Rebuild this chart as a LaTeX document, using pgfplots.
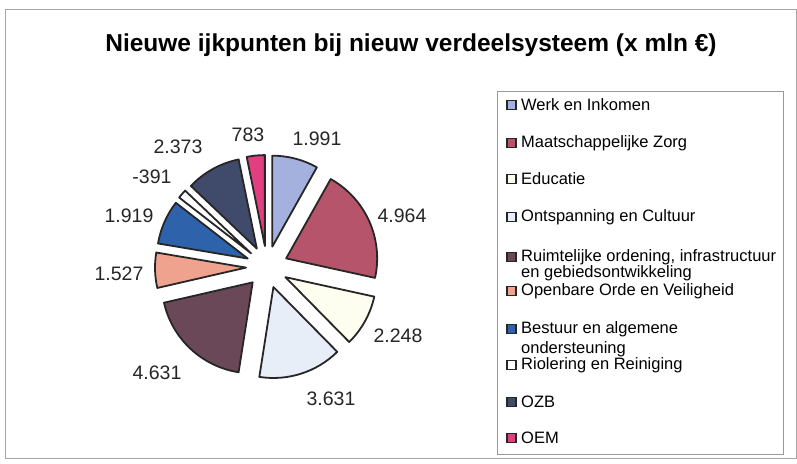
\documentclass[border=0pt]{standalone}
\usepackage{pgfplots}
\usepackage{pgfplotstable}
\pgfplotsset{compat=1.18}
\usepackage{fontspec}
\setmainfont{Liberation Sans}

\definecolor{cWerk}{HTML}{A4B1DF}
\definecolor{cZorg}{HTML}{B5546A}
\definecolor{cEdu}{HTML}{FDFDF0}
\definecolor{cOnt}{HTML}{E8EEF8}
\definecolor{cRuim}{HTML}{6B4858}
\definecolor{cOOV}{HTML}{EFA28E}
\definecolor{cBest}{HTML}{2E62AA}
\definecolor{cRiol}{HTML}{FFFFFF}
\definecolor{cOZB}{HTML}{404B6C}
\definecolor{cOEM}{HTML}{E0407F}

% value, label, label centre (image pixels, y from top), colour
\pgfplotstableread{
value lab   lx  ly  col
1991  1.991 317 139 cWerk
4964  4.964 402 216 cZorg
2248  2.248 398 336 cEdu
3631  3.631 331 399 cOnt
4631  4.631 157 373 cRuim
1527  1.527 119 274 cOOV
1919  1.919 129 216 cBest
-391  -391  152 177 cRiol
2373  2.373 178 147 cOZB
783   783   248 135 cOEM
}\piedata

\newcommand\labfont{\fontsize{19.5bp}{22bp}\selectfont}
\newcommand\legfont{\fontsize{16.5bp}{19bp}\selectfont}

\begin{document}
\begin{tikzpicture}
\begin{axis}[x=1bp,y=1bp,xmin=0,xmax=797,ymin=0,ymax=464,hide axis,clip=false]
\path (axis cs:0,0) rectangle (axis cs:797,464);
\draw[gray!70, line width=1bp] (axis cs:5,5) rectangle (axis cs:796,454);
% title
\node[font=\bfseries\fontsize{24.5bp}{28bp}\selectfont] at (axis cs:411,419) {Nieuwe ijkpunten bij nieuw verdeelsysteem (x mln €)};
% total (in thousands, to stay within TeX's number range)
\pgfplotstablegetrowsof{\piedata}
\pgfmathtruncatemacro\nrows{\pgfplotsretval-1}
\def\total{0}
\pgfplotsforeachungrouped \i in {0,...,\nrows}{%
  \pgfplotstablegetelem{\i}{value}\of\piedata
  \pgfmathsetmacro\total{\total+abs(\pgfplotsretval)/1000}%
}
\def\startang{90}
\pgfplotsforeachungrouped \i in {0,...,\nrows}{%
  \pgfplotstablegetelem{\i}{value}\of\piedata
  \pgfmathsetmacro\spanang{abs(\pgfplotsretval)/1000*360/\total}%
  \pgfmathsetmacro\endang{\startang-\spanang}%
  \pgfmathsetmacro\midang{\startang-\spanang/2}%
  \pgfmathsetmacro\ex{267+21*cos(\midang)}%
  \pgfmathsetmacro\ey{197+21*sin(\midang)}%
  \pgfplotstablegetelem{\i}{col}\of\piedata
  \edef\slcol{\pgfplotsretval}%
  \pgfplotstablegetelem{\i}{lab}\of\piedata
  \edef\sllab{\pgfplotsretval}%
  \pgfplotstablegetelem{\i}{lx}\of\piedata
  \edef\sllx{\pgfplotsretval}%
  \pgfplotstablegetelem{\i}{ly}\of\piedata
  \pgfmathsetmacro\slly{464-\pgfplotsretval}%
  \edef\temp{\noexpand\filldraw[fill=\slcol, draw=black!85, line width=1.8bp, line join=round]
    (axis cs:\ex,\ey) -- ++(\startang:91bp) arc[start angle=\startang, end angle=\endang, radius=91bp] -- cycle;
    \noexpand\node[font=\noexpand\labfont, text=black!85] at (axis cs:\sllx,\slly) {\sllab};}%
  \temp
  \global\let\startang\endang
}
% legend
\draw[gray!80, line width=1bp] (axis cs:497,372) rectangle (axis cs:783,9);
\def\legmark#1#2{\filldraw[fill=#1, draw=black!85, line width=1.3bp] (axis cs:507,#2-4.5) rectangle (axis cs:516,#2+4.5);}
\legmark{cWerk}{359}
\node[font=\legfont, anchor=west, inner sep=0pt] at (axis cs:521,359) {Werk en Inkomen};
\legmark{cZorg}{321}
\node[font=\legfont, anchor=west, inner sep=0pt] at (axis cs:521,321) {Maatschappelijke Zorg};
\legmark{cEdu}{285}
\node[font=\legfont, anchor=west, inner sep=0pt] at (axis cs:521,285) {Educatie};
\legmark{cOnt}{247}
\node[font=\legfont, anchor=west, inner sep=0pt] at (axis cs:521,247) {Ontspanning en Cultuur};
\legmark{cRuim}{207}
\node[font=\legfont, anchor=west, inner sep=0pt] at (axis cs:521,207) {Ruimtelijke ordening, infrastructuur};
\node[font=\legfont, anchor=west, inner sep=0pt] at (axis cs:521,191) {en gebiedsontwikkeling};
\legmark{cOOV}{173}
\node[font=\legfont, anchor=west, inner sep=0pt] at (axis cs:521,173) {Openbare Orde en Veiligheid};
\legmark{cBest}{135}
\node[font=\legfont, anchor=west, inner sep=0pt] at (axis cs:521,135) {Bestuur en algemene};
\node[font=\legfont, anchor=west, inner sep=0pt] at (axis cs:521,115) {ondersteuning};
\legmark{cRiol}{99}
\node[font=\legfont, anchor=west, inner sep=0pt] at (axis cs:521,99) {Riolering en Reiniging};
\legmark{cOZB}{62}
\node[font=\legfont, anchor=west, inner sep=0pt] at (axis cs:521,62) {OZB};
\legmark{cOEM}{26}
\node[font=\legfont, anchor=west, inner sep=0pt] at (axis cs:521,26) {OEM};
\end{axis}
\end{tikzpicture}
\end{document}
